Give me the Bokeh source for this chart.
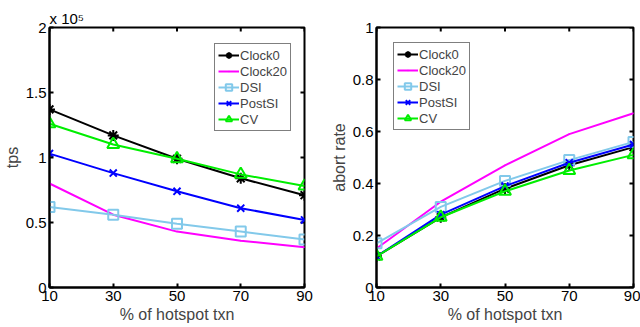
import math
from bokeh.plotting import figure
from bokeh.layouts import row
from bokeh.models import FixedTicker, Range1d, Legend
from bokeh.embed import file_html
from bokeh.resources import INLINE

x = [10, 30, 50, 70, 90]
series = ["Clock0", "Clock20", "DSI", "PostSI", "CV"]

# throughput in units of 1e5 tps
tps_clock0 = [1.37, 1.17, 0.99, 0.84, 0.71]
tps_clock20 = [0.80, 0.56, 0.43, 0.36, 0.31]
tps_dsi = [0.62, 0.56, 0.49, 0.43, 0.37]
tps_postsi = [1.03, 0.88, 0.74, 0.61, 0.52]
tps_cv = [1.26, 1.10, 0.99, 0.87, 0.78]

abort_clock0 = [0.12, 0.27, 0.38, 0.47, 0.54]
abort_clock20 = [0.15, 0.33, 0.47, 0.59, 0.67]
abort_dsi = [0.17, 0.31, 0.41, 0.49, 0.56]
abort_postsi = [0.12, 0.28, 0.39, 0.48, 0.55]
abort_cv = [0.12, 0.27, 0.37, 0.45, 0.51]

left_ticks = [0, 0.5, 1, 1.5, 2]
left_tick_labels = ["0", "0.5", "1", "1.5", "2"]
right_ticks = [0, 0.2, 0.4, 0.6, 0.8, 1]
right_tick_labels = ["0", "0.2", "0.4", "0.6", "0.8", "1"]

FONT = "Liberation Sans"
styles = {
    "Clock0": dict(color="#000000", marker="asterisk", size=11, lw=2),
    "Clock20": dict(color="#FF00FF", marker="dot", size=6, lw=2),
    "DSI": dict(color="#82C9EA", marker="square", size=10, lw=2),
    "PostSI": dict(color="#0000FF", marker="x", size=10, lw=2),
    "CV": dict(color="#00EE00", marker="triangle", size=12, lw=2),
}


def style_axis(ax):
    ax.axis_line_width = 2
    ax.axis_line_color = "black"
    ax.major_tick_in = 4
    ax.major_tick_out = 0
    ax.major_tick_line_width = 2
    ax.minor_tick_line_color = None
    ax.major_label_text_font = FONT
    ax.major_label_text_font_size = "15px"
    ax.major_label_text_color = "black"
    ax.major_label_standoff = 3
    ax.axis_label_text_font = FONT
    ax.axis_label_text_font_size = "16px"
    ax.axis_label_text_font_style = "normal"
    ax.axis_label_standoff = 2


def make_fig(data, yticks, ylabels, ylabel, border_left, border_right, legend_loc):
    p = figure(width=320, height=327, output_backend="svg", toolbar_location=None,
               x_range=Range1d(10, 90), y_range=Range1d(yticks[0], yticks[-1]),
               min_border_left=border_left, min_border_right=border_right,
               min_border_top=27, min_border_bottom=40)
    p.outline_line_color = "black"
    p.outline_line_width = 2
    p.grid.visible = False
    p.background_fill_color = "white"
    p.border_fill_color = "white"
    p.xaxis.ticker = FixedTicker(ticks=x)
    p.yaxis.ticker = FixedTicker(ticks=yticks)
    p.yaxis.major_label_overrides = {t: l for t, l in zip(yticks, ylabels)}
    p.xaxis.axis_label = "% of hotspot txn"
    p.yaxis.axis_label = ylabel
    style_axis(p.xaxis[0])
    style_axis(p.yaxis[0])
    # mirrored inward ticks on top and right edges (outer half clipped by the frame)
    p.scatter(x, [yticks[-1]] * len(x), marker="dash", size=8, angle=math.pi / 2,
              line_color="black", line_width=2)
    p.scatter([x[-1]] * len(yticks), yticks, marker="dash", size=8,
              line_color="black", line_width=2)

    items = []
    for name, ys in zip(series, data):
        s = styles[name]
        r1 = p.line(x, ys, line_color=s["color"], line_width=s["lw"])
        r2 = p.scatter(x, ys, marker=s["marker"], size=s["size"], line_color=s["color"],
                       fill_color=None, line_width=2 if name != "Clock20" else 1)
        items.append((name, [r1, r2]))
    leg = Legend(items=items, location=legend_loc)
    leg.label_text_font = FONT
    leg.label_text_font_size = "13px"
    leg.glyph_width = 21
    leg.glyph_height = 16
    leg.label_height = 16
    leg.spacing = 0
    leg.padding = 3
    leg.margin = 0
    leg.label_standoff = 1
    leg.border_line_color = "black"
    leg.border_line_width = 1
    leg.background_fill_alpha = 1
    p.add_layout(leg, "center")
    return p


p1 = make_fig([tps_clock0, tps_clock20, tps_dsi, tps_postsi, tps_cv],
              left_ticks, left_tick_labels, "tps", 47, 16, (165, 156))
p1.title.text = "x 10\u2075"
p1.title.align = "left"
p1.title.offset = 0
p1.title.standoff = 2
p1.title.text_font = FONT
p1.title.text_font_size = "15px"
p1.title.text_font_style = "normal"
p1.title.text_color = "black"
p2 = make_fig([abort_clock0, abort_clock20, abort_dsi, abort_postsi, abort_cv],
              right_ticks, right_tick_labels, "abort rate", 56, 7, (17, 157))

layout = row(p1, p2)
open("out.html", "w").write(file_html(layout, INLINE))
